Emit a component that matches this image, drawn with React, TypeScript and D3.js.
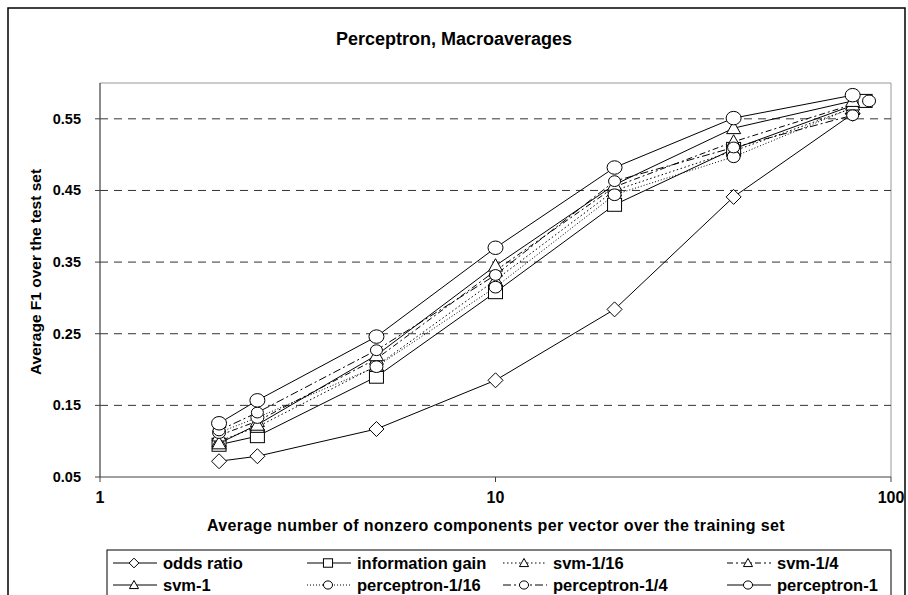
import React from 'react';
import * as d3 from 'd3';

// nonzero components per vector (x) and macro F1 (y)
const xBase = [2, 2.5, 5, 10, 20, 40, 80];
const xInfoGain = [2, 2.5, 5, 10, 20, 40, 86];
const xPercSixteenth = [2, 2.5, 5, 10, 20, 40, 88];

const oddsRatio = [0.072, 0.079, 0.117, 0.185, 0.284, 0.441, 0.557];
const infoGain = [0.095, 0.107, 0.19, 0.308, 0.43, 0.508, 0.575];
const svmSixteenth = [0.1, 0.12, 0.205, 0.325, 0.45, 0.505, 0.565];
const svmQuarter = [0.108, 0.128, 0.215, 0.338, 0.455, 0.518, 0.57];
const svmOne = [0.097, 0.123, 0.22, 0.345, 0.458, 0.537, 0.575];
const percSixteenth = [0.112, 0.133, 0.204, 0.315, 0.444, 0.497, 0.575];
const percQuarter = [0.115, 0.14, 0.227, 0.332, 0.463, 0.51, 0.555];
const percOne = [0.125, 0.157, 0.246, 0.37, 0.482, 0.551, 0.583];

const yTicks = [0.05, 0.15, 0.25, 0.35, 0.45, 0.55];
const xTicks = [1, 10, 100];

const series = [
  { name: 'odds ratio', xs: xBase, ys: oddsRatio, marker: 'diamond', dash: null },
  { name: 'information gain', xs: xInfoGain, ys: infoGain, marker: 'square', dash: null },
  { name: 'svm-1/16', xs: xBase, ys: svmSixteenth, marker: 'triangle', dash: '1.5,2.5' },
  { name: 'svm-1/4', xs: xBase, ys: svmQuarter, marker: 'triangle', dash: '6,3,2,3' },
  { name: 'svm-1', xs: xBase, ys: svmOne, marker: 'triangle', dash: null },
  { name: 'perceptron-1/16', xs: xPercSixteenth, ys: percSixteenth, marker: 'circle', dash: '1,2' },
  { name: 'perceptron-1/4', xs: xBase, ys: percQuarter, marker: 'circle', dash: '8,3,2,3' },
  { name: 'perceptron-1', xs: xBase, ys: percOne, marker: 'circle', dash: null },
];

const font = '"Liberation Sans", Arial, sans-serif';

const Marker = ({ type, x, y, s = 1, r }: { type: string; x: number; y: number; s?: number; r?: number }) => {
  const common = { fill: 'white', stroke: 'black', strokeWidth: 1 };
  if (type === 'diamond') {
    const h = 7.5 * s;
    return <path d={`M${x},${y - h}L${x + h},${y}L${x},${y + h}L${x - h},${y}Z`} {...common} />;
  }
  if (type === 'square') {
    return <rect x={x - 7 * s} y={y - 6.5 * s} width={14 * s} height={13 * s} {...common} />;
  }
  if (type === 'triangle') {
    return <path d={`M${x},${y - 7 * s}L${x + 7 * s},${y + 5.5 * s}L${x - 7 * s},${y + 5.5 * s}Z`} {...common} />;
  }
  const rr = (r ?? 7) * s;
  return <ellipse cx={x} cy={y} rx={rr} ry={rr * 0.9} {...common} />;
};

const circleR = (name: string) =>
  name === 'perceptron-1' ? 7.5 : name === 'perceptron-1/4' ? 6 : 6.5;

const App = () => {
  const width = 908;
  const height = 595;
  const left = 100;
  const right = 891;
  const top = 83;
  const bottom = 477;

  const x = d3.scaleLog().domain([1, 100]).range([left, right]);
  const y = d3.scaleLinear().domain([0.05, 0.6]).range([bottom, top]);

  const line = d3
    .line<[number, number]>()
    .x(d => x(d[0]))
    .y(d => y(d[1]));

  const legendCols = [113, 307, 503, 727];
  const legendRows = [563, 585];

  return (
    <svg width={width} height={height} style={{ position: 'absolute', left: 0, top: 0 }}>
      <rect x={0} y={0} width={width} height={height} fill="white" />
      <rect x={8} y={8} width={897} height={600} fill="none" stroke="black" strokeWidth={1.5} />

      <text x={454} y={45} textAnchor="middle" fontFamily={font} fontWeight="bold" fontSize={18}>
        Perceptron, Macroaverages
      </text>

      {/* plot frame */}
      <line x1={left} x2={right} y1={top} y2={top} stroke="#999" />
      <line x1={right} x2={right} y1={top} y2={bottom} stroke="#999" />

      {/* dashed gridlines */}
      {yTicks.slice(1).map(t => (
        <line key={t} x1={left} x2={right} y1={y(t)} y2={y(t)} stroke="#333" strokeDasharray="8,6" />
      ))}

      {/* axes */}
      <line x1={left} x2={left} y1={top} y2={bottom} stroke="#404040" strokeWidth={1.2} />
      <line x1={left} x2={right} y1={bottom} y2={bottom} stroke="#404040" strokeWidth={1.2} />
      {yTicks.map(t => (
        <g key={t}>
          <line x1={left - 5} x2={left} y1={y(t)} y2={y(t)} stroke="#404040" />
          <text x={left - 19} y={y(t) + 5} textAnchor="end" fontFamily={font} fontWeight="bold" fontSize={14.5}>
            {t.toFixed(2)}
          </text>
        </g>
      ))}
      {xTicks.map(t => (
        <g key={t}>
          <line x1={x(t)} x2={x(t)} y1={bottom} y2={bottom + 5} stroke="#404040" />
          <text x={x(t)} y={bottom + 26} textAnchor="middle" fontFamily={font} fontWeight="bold" fontSize={16}>
            {t}
          </text>
        </g>
      ))}

      <text
        transform={`translate(41,${(top + bottom) / 2 - 8}) rotate(-90)`}
        textAnchor="middle"
        fontFamily={font}
        fontWeight="bold"
        fontSize={15.5}
      >
        Average F1 over the test set
      </text>
      <text x={496} y={531} textAnchor="middle" fontFamily={font} fontWeight="bold" fontSize={16} letterSpacing={0.4}>
        Average number of nonzero components per vector over the training set
      </text>

      {/* series */}
      {series.map(s => (
        <path
          key={s.name}
          d={line(s.xs.map((v, i) => [v, s.ys[i]] as [number, number])) || ''}
          fill="none"
          stroke="black"
          strokeWidth={1}
          strokeDasharray={s.dash || undefined}
        />
      ))}
      {series.map(s =>
        s.xs.map((v, i) => (
          <Marker key={s.name + i} type={s.marker} x={x(v)} y={y(s.ys[i])} r={circleR(s.name)} />
        ))
      )}

      {/* legend */}
      <rect x={107} y={550} width={784} height={60} fill="white" stroke="black" strokeWidth={1} />
      {series.map((s, i) => {
        const lx = legendCols[i % 4];
        const ly = legendRows[Math.floor(i / 4)];
        return (
          <g key={s.name}>
            <line x1={lx} x2={lx + 44} y1={ly} y2={ly} stroke="black" strokeDasharray={s.dash || undefined} />
            <Marker type={s.marker} x={lx + 21} y={ly} s={0.65} r={7} />
            <text x={lx + 50} y={ly + 6} fontFamily={font} fontWeight="bold" fontSize={16.5}>
              {s.name}
            </text>
          </g>
        );
      })}
    </svg>
  );
};

export default App;
